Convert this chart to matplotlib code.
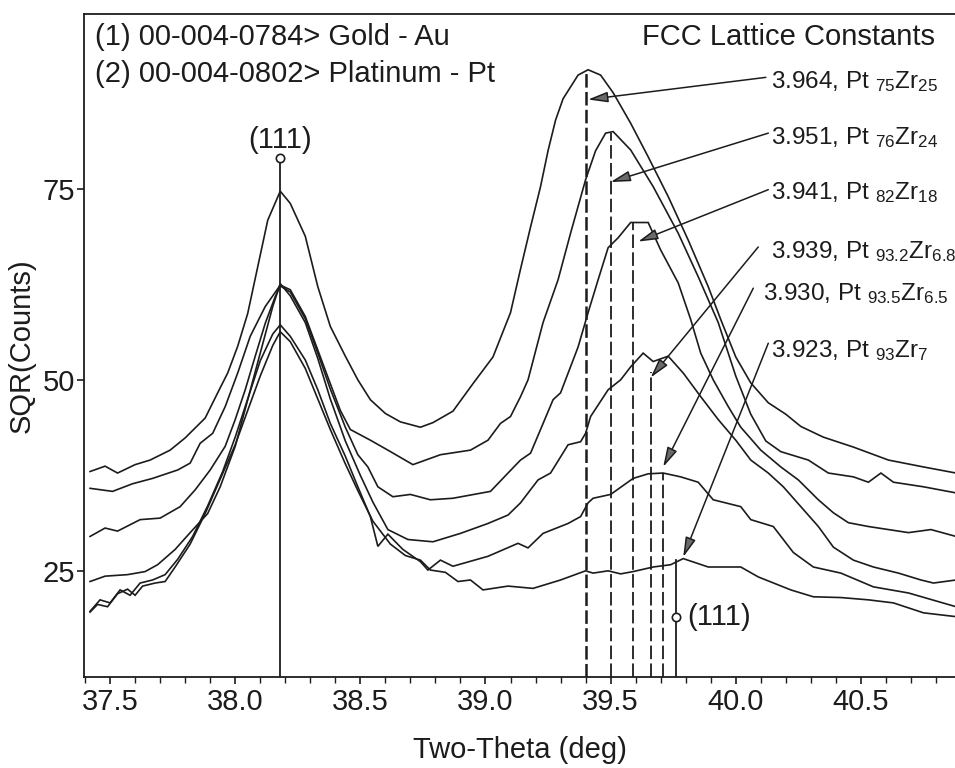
"""
XRD (111) region for a series of PtZr films on Au, plotted as SQR(counts).
"""

import matplotlib

matplotlib.use("Agg")
import matplotlib.pyplot as plt
from matplotlib.ticker import MultipleLocator

plt.rcParams["font.family"] = ["Liberation Sans", "DejaVu Sans"]
plt.rcParams["mathtext.default"] = "regular"

INK = "#1c1c1c"

# --- scans (two-theta in deg, SQR counts) ---
x_a = [37.42, 37.48, 37.53, 37.60, 37.66, 37.74, 37.80, 37.88, 37.93, 37.97,
       38.01, 38.05, 38.09, 38.13, 38.18, 38.22, 38.28, 38.33, 38.38, 38.44,
       38.49, 38.54, 38.60, 38.66, 38.74, 38.79, 38.87, 38.95, 39.03, 39.10,
       39.14, 39.18, 39.22, 39.25, 39.28, 39.31, 39.37, 39.41, 39.46, 39.51,
       39.58, 39.65, 39.73, 39.81, 39.89, 39.94, 40.00, 40.06, 40.13, 40.20,
       40.26, 40.35, 40.47, 40.61, 40.75, 40.88]
y_a = [38.0, 38.7, 37.8, 38.9, 39.5, 40.8, 42.4, 45.0, 48.3, 50.9,
       54.4, 58.7, 64.8, 70.9, 74.7, 73.1, 68.8, 62.2, 57.0, 53.1,
       50.0, 47.4, 45.6, 44.5, 43.8, 44.4, 45.9, 49.5, 53.0, 58.8,
       64.5, 70.0, 75.3, 80.0, 84.0, 86.8, 89.9, 90.6, 89.9, 87.6,
       83.6, 79.2, 74.0, 68.3, 62.2, 57.9, 53.0, 49.6, 47.0, 45.5,
       43.9, 42.5, 41.2, 39.5, 38.6, 37.8]

x_b = [37.42, 37.51, 37.59, 37.67, 37.77, 37.82, 37.86, 37.91, 37.96, 38.01,
       38.06, 38.12, 38.18, 38.22, 38.28, 38.33, 38.38, 38.42, 38.46, 38.54,
       38.61, 38.71, 38.82, 38.94, 39.01, 39.06, 39.10, 39.14, 39.17, 39.23,
       39.29, 39.34, 39.40, 39.44, 39.48, 39.51, 39.58, 39.67, 39.77, 39.85,
       39.93, 40.00, 40.06, 40.12, 40.18, 40.29, 40.37, 40.47, 40.53, 40.58,
       40.63, 40.75, 40.88]
y_b = [35.8, 35.4, 36.4, 37.1, 38.2, 39.1, 41.7, 43.0, 46.5, 50.9,
       55.7, 59.6, 62.4, 61.8, 58.3, 53.9, 49.5, 46.0, 43.5, 42.1,
       40.8, 38.9, 40.2, 40.8, 42.1, 44.3, 45.2, 47.8, 50.0, 57.5,
       63.1, 69.2, 76.2, 80.0, 82.3, 82.5, 80.1, 75.3, 69.2, 63.5,
       57.5, 50.5, 45.5, 42.0, 40.6, 39.5, 37.8, 37.3, 36.6, 37.8,
       36.6, 36.0, 35.2]

x_c = [37.42, 37.48, 37.53, 37.62, 37.70, 37.78, 37.84, 37.90, 37.96, 38.00,
       38.04, 38.08, 38.12, 38.16, 38.18, 38.22, 38.28, 38.33, 38.38, 38.44,
       38.49, 38.53, 38.57, 38.63, 38.70, 38.78, 38.87, 39.02, 39.09, 39.14,
       39.18, 39.22, 39.27, 39.30, 39.37, 39.41, 39.45, 39.49, 39.53, 39.58,
       39.65, 39.70, 39.77, 39.82, 39.86, 39.91, 39.97, 40.02, 40.10, 40.18,
       40.25, 40.33, 40.39, 40.45, 40.53, 40.61, 40.69, 40.78, 40.88]
y_c = [29.5, 30.6, 30.2, 31.7, 31.9, 33.4, 35.6, 38.2, 41.3, 44.8,
       48.7, 53.1, 57.4, 60.9, 62.3, 61.5, 58.0, 53.5, 48.8, 43.8,
       40.2, 38.6, 36.0, 34.7, 35.0, 34.3, 34.5, 35.4, 37.8, 39.5,
       40.4, 43.5, 47.4, 48.3, 54.3, 58.8, 63.1, 67.3, 68.6, 70.6,
       70.6, 67.0, 62.7, 57.9, 53.5, 50.0, 46.5, 43.8, 40.8, 38.6,
       36.9, 34.3, 32.6, 31.3, 30.8, 30.4, 30.0, 30.4, 29.5]

x_d = [37.42, 37.48, 37.57, 37.64, 37.69, 37.76, 37.82, 37.89, 37.94, 38.00,
       38.05, 38.10, 38.15, 38.18, 38.22, 38.28, 38.33, 38.38, 38.44, 38.50,
       38.55, 38.61, 38.69, 38.79, 38.90, 39.01, 39.09, 39.14, 39.21, 39.26,
       39.33, 39.38, 39.40, 39.42, 39.49, 39.54, 39.58, 39.63, 39.67, 39.73,
       39.79, 39.86, 39.93, 40.00, 40.06, 40.13, 40.19, 40.26, 40.33, 40.39,
       40.47, 40.55, 40.65, 40.74, 40.79, 40.88]
y_d = [23.6, 24.3, 24.5, 24.9, 25.8, 27.8, 30.0, 32.5, 36.0, 41.3,
       47.4, 53.5, 59.6, 62.6, 61.0, 57.5, 52.8, 47.5, 42.0, 37.5,
       34.0, 30.4, 29.1, 28.8, 29.9, 31.2, 32.3, 33.9, 36.9, 37.8,
       41.5, 41.9, 43.0, 45.2, 48.7, 50.0, 51.7, 53.5, 52.4, 53.1,
       50.9, 47.8, 44.8, 42.1, 39.5, 37.8, 36.0, 33.4, 30.8, 28.1,
       26.4, 25.5, 24.7, 23.8, 23.4, 23.8]

x_e = [37.42, 37.46, 37.50, 37.54, 37.58, 37.62, 37.67, 37.72, 37.77, 37.83,
       37.89, 37.95, 38.00, 38.05, 38.10, 38.15, 38.18, 38.22, 38.28, 38.33,
       38.38, 38.44, 38.49, 38.54, 38.57, 38.61, 38.67, 38.74, 38.77, 38.82,
       38.87, 39.01, 39.13, 39.17, 39.23, 39.33, 39.38, 39.41, 39.43, 39.50,
       39.59, 39.65, 39.71, 39.78, 39.85, 39.91, 40.02, 40.06, 40.15, 40.23,
       40.31, 40.42, 40.55, 40.69, 40.88]
y_e = [19.7, 21.2, 20.8, 22.5, 21.8, 23.4, 23.8, 24.5, 26.5, 29.5,
       33.5, 38.0, 42.5, 47.5, 52.5, 56.0, 57.2, 55.7, 52.6, 48.7,
       44.3, 40.0, 36.0, 32.1, 28.2, 29.8, 27.8, 26.2, 25.1, 26.4,
       25.6, 26.9, 28.6, 28.0, 29.9, 31.2, 32.1, 33.9, 34.5, 35.0,
       37.1, 37.7, 37.8, 37.3, 36.6, 34.3, 33.4, 31.7, 30.8, 27.4,
       25.5, 24.7, 22.9, 22.1, 20.3]

x_f = [37.42, 37.45, 37.49, 37.53, 37.57, 37.60, 37.63, 37.68, 37.72, 37.76,
       37.82, 37.88, 37.94, 38.00, 38.05, 38.10, 38.15, 38.18, 38.22, 38.28,
       38.33, 38.38, 38.44, 38.49, 38.55, 38.62, 38.68, 38.74, 38.78, 38.84,
       38.89, 38.94, 38.99, 39.09, 39.19, 39.30, 39.40, 39.43, 39.49, 39.54,
       39.59, 39.67, 39.74, 39.79, 39.89, 40.02, 40.09, 40.22, 40.31, 40.42,
       40.53, 40.63, 40.75, 40.88]
y_f = [19.6, 20.6, 20.3, 22.0, 22.6, 21.8, 23.0, 23.4, 23.6, 25.5,
       28.5, 32.5, 37.0, 41.5, 46.0, 50.5, 54.5, 56.3, 55.0, 51.5,
       47.5, 43.5, 39.0, 35.5, 31.5, 28.5, 27.0, 26.4, 25.1, 24.8,
       23.6, 23.8, 22.5, 23.0, 22.7, 23.8, 25.0, 24.7, 25.0, 24.6,
       24.9, 25.5, 25.8, 26.6, 25.5, 25.5, 24.2, 22.5, 21.6, 21.5,
       21.2, 20.8, 19.5, 19.0]

scans = [(x_a, y_a), (x_b, y_b), (x_c, y_c), (x_d, y_d), (x_e, y_e), (x_f, y_f)]

# --- PDF reference sticks: Au (111) and Pt (111) ---
ref_pos = [38.18, 39.76]
ref_mark = [79.1, 19.0]
pt_stick_top = 26.4

# --- fitted Pt-Zr (111) peak positions (dashed) ---
fit_pos = [39.40, 39.50, 39.59, 39.66, 39.71]
fit_top = [90.3, 82.3, 70.6, 51.0, 37.8]
fit_width = [1.8, 1.3, 1.3, 1.3, 1.3]

# --- lattice-constant labels and where their arrows point ---
lattice_labels = [
    "3.964, Pt $_{75}$Zr$_{25}$",
    "3.951, Pt $_{76}$Zr$_{24}$",
    "3.941, Pt $_{82}$Zr$_{18}$",
    "3.939, Pt $_{93.2}$Zr$_{6.8}$",
    "3.930, Pt $_{93.5}$Zr$_{6.5}$",
    "3.923, Pt $_{93}$Zr$_{7}$",
]
label_x = [40.14, 40.14, 40.14, 40.14, 40.11, 40.14]
label_y = [88.2, 80.8, 73.7, 66.0, 60.5, 53.0]
arrow_from = [(40.12, 89.6), (40.13, 82.3), (40.13, 74.9),
              (40.09, 67.4), (40.07, 62.0), (40.13, 54.8)]
arrow_to = [(39.41, 86.7), (39.50, 75.9), (39.61, 68.1),
            (39.66, 50.3), (39.71, 38.6), (39.79, 26.8)]

XLIM = (37.396, 40.876)
YLIM = (11.1, 97.9)

fig = plt.figure(figsize=(9.55, 7.68), dpi=100)
ax = fig.add_axes([0.088, 0.1185, 0.912, 0.8633])
ax.set_xlim(*XLIM)
ax.set_ylim(*YLIM)

for xs, ys in scans:
    ax.plot(xs, ys, color=INK, lw=1.2, solid_joinstyle="miter")

# dashed fit positions
for pos, top, lw in zip(fit_pos, fit_top, fit_width):
    ax.plot([pos, pos], [YLIM[0], top], color=INK, lw=lw,
            linestyle=(0, (7.5 / lw * 1.3, 2.4 / lw * 1.3)))

# reference sticks with open circles
ax.plot([ref_pos[0], ref_pos[0]], [YLIM[0], ref_mark[0]], color=INK, lw=1.3)
ax.plot([ref_pos[1], ref_pos[1]], [YLIM[0], pt_stick_top], color=INK, lw=1.3)
ax.plot(ref_pos, ref_mark, linestyle="none", marker="o", ms=6,
        mfc="white", mec=INK, mew=1.2)
ax.text(ref_pos[0], ref_mark[0] + 0.5, "(111)", fontsize=21, ha="center",
        va="bottom", color=INK)
ax.text(ref_pos[1] + 0.045, ref_mark[1], "(111)", fontsize=21, ha="left",
        va="center", color=INK)

# lattice constant call-outs
for text, tx, ty, a0, a1 in zip(lattice_labels, label_x, label_y,
                                arrow_from, arrow_to):
    ax.text(tx, ty, text, fontsize=17.5, ha="left", va="baseline", color=INK,
            clip_on=False)
    ax.annotate("", xy=a1, xytext=a0,
                arrowprops=dict(arrowstyle="-|>,head_length=0.75,head_width=0.2",
                                ec=INK, fc="#6a6a6a", lw=1.1,
                                mutation_scale=16, shrinkA=0, shrinkB=0))

# card references and title block
ax.text(0.0126, 0.965, "(1) 00-004-0784> Gold - Au", transform=ax.transAxes,
        fontsize=21, ha="left", va="center", color=INK)
ax.text(0.0126, 0.909, "(2) 00-004-0802> Platinum - Pt", transform=ax.transAxes,
        fontsize=21, ha="left", va="center", color=INK)
ax.text(0.977, 0.965, "FCC Lattice Constants", transform=ax.transAxes,
        fontsize=21, ha="right", va="center", color=INK)

# axes styling
ax.spines["right"].set_visible(False)
for side in ("left", "top", "bottom"):
    ax.spines[side].set_linewidth(1.3)
    ax.spines[side].set_color(INK)

ax.xaxis.set_major_locator(MultipleLocator(0.5))
ax.xaxis.set_minor_locator(MultipleLocator(0.1))
ax.set_yticks([25, 50, 75])
ax.tick_params(axis="x", which="major", direction="out", length=5, width=1.2,
               labelsize=21, pad=3, colors=INK)
ax.tick_params(axis="x", which="minor", direction="out", length=4, width=1.0,
               colors=INK)
ax.tick_params(axis="y", direction="out", length=5, width=1.2, labelsize=21,
               pad=1.5, colors=INK)
ax.set_xticklabels([f"{v:.1f}" for v in ax.get_xticks()])

ax.set_xlabel("Two-Theta (deg)", fontsize=21, labelpad=14, color=INK)
ax.set_ylabel("SQR(Counts)", fontsize=21, labelpad=5, color=INK)

fig.savefig("out.png", dpi=100)
